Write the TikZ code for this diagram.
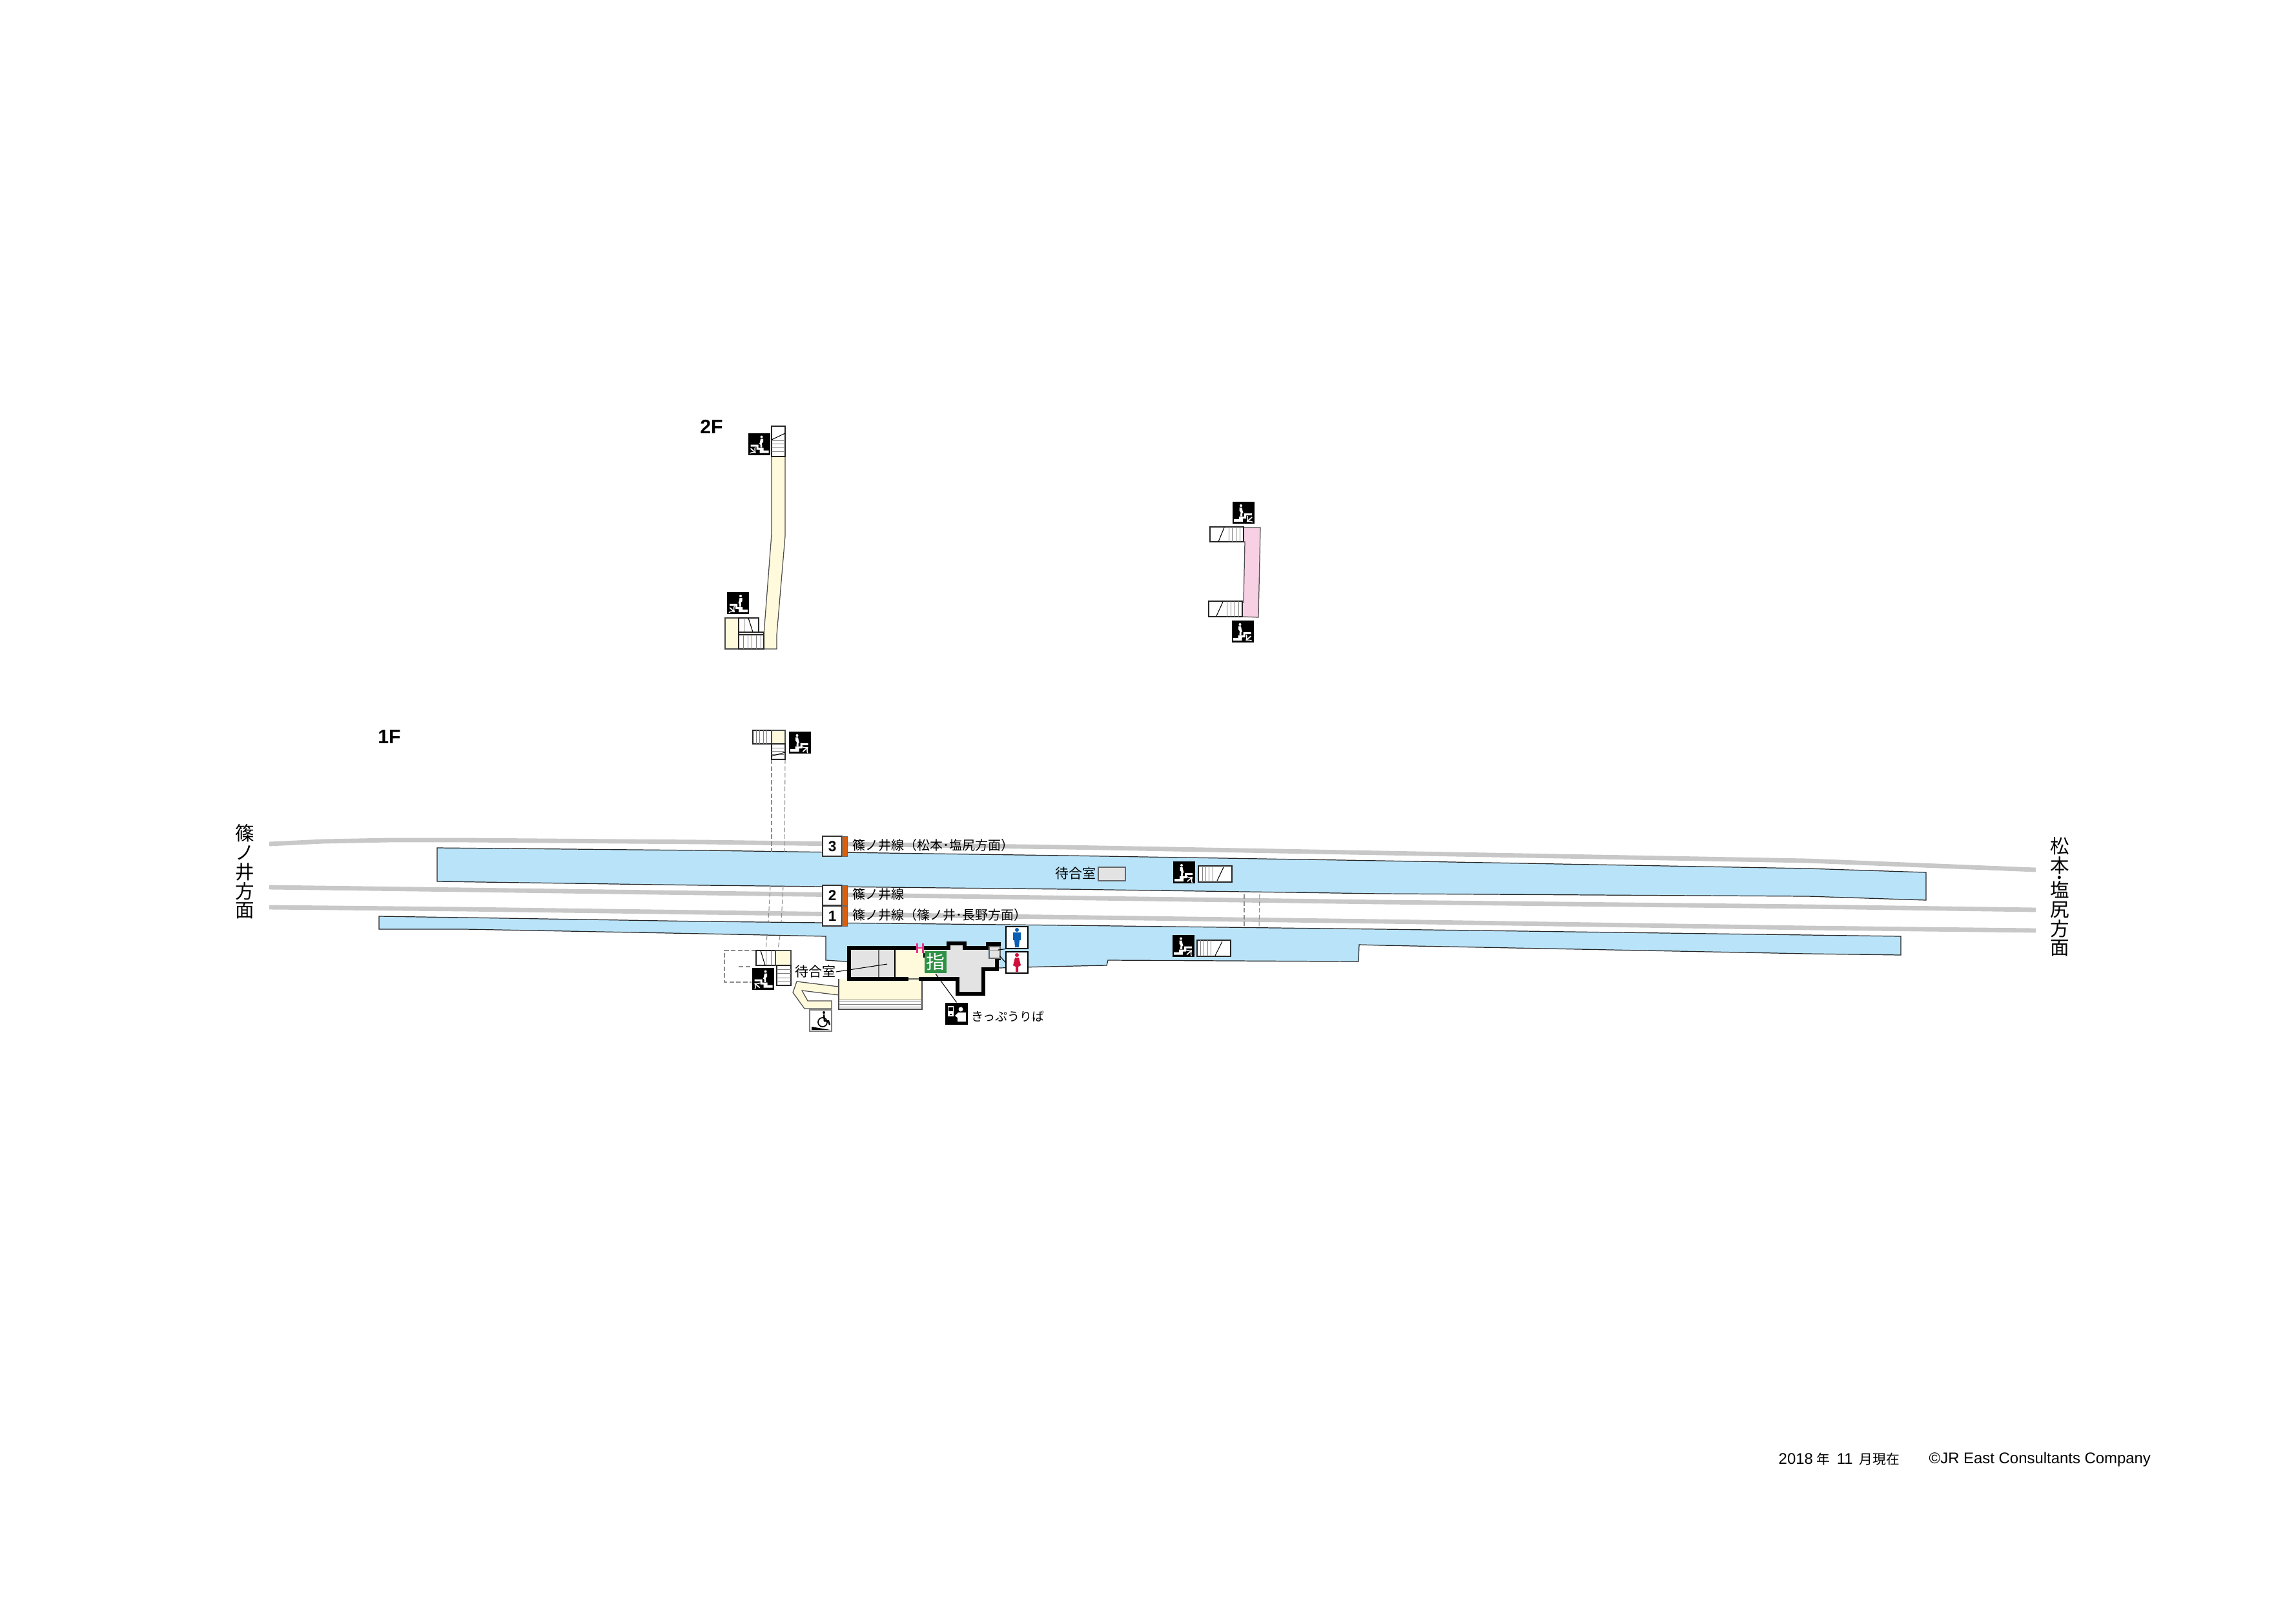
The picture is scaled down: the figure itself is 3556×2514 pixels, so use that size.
\documentclass[tikz,border=0pt]{standalone}
\usepackage{fontspec}
\setmainfont{Liberation Sans}
\newfontfamily\cjk{Noto Sans CJK JP}
\usetikzlibrary{positioning}
\definecolor{platblue}{HTML}{B9E3F9}
\definecolor{trackgray}{HTML}{C8C8C8}
\definecolor{roomgray}{HTML}{E3E3E3}
\definecolor{creamfill}{HTML}{FFFADC}
\definecolor{pinkfill}{HTML}{F8D0E4}
\definecolor{doorpink}{HTML}{E6358C}
\definecolor{lineorange}{HTML}{D95F0E}
\definecolor{signgreen}{HTML}{2F9145}
\definecolor{manblue}{HTML}{0A5FB4}
\definecolor{womanred}{HTML}{D0103A}
\tikzset{
  platform/.style={fill=platblue,draw=black!85,line width=0.35pt},
  track/.style={draw=trackgray,line width=1.95pt},
  thinline/.style={draw=black,line width=0.3pt},
  treadline/.style={draw=black!50,line width=0.28pt},
  stairbox/.style={fill=white,draw=black!85,line width=0.35pt},
  creambox/.style={fill=creamfill,draw=black!70,line width=0.35pt},
  hidden/.style={draw=black!45,line width=0.3pt,dash pattern=on 2pt off 1pt},
  wall/.style={draw=black,line width=1.45pt,line join=miter},
  numbox/.style={draw=black!80,fill=white,line width=0.35pt,minimum width=30*0.2845pt,minimum height=31*0.2845pt,inner sep=0pt,font=\bfseries\fontsize{6.4}{7}\selectfont,text depth=0pt},
  linebar/.style={fill=lineorange,draw=black!60,line width=0.25pt},
  linelabel/.style={anchor=west,inner sep=0pt,font=\cjk\fontsize{5.68}{6}\selectfont},
  roomlabel/.style={inner sep=0pt,font=\cjk\fontsize{5.95}{6}\selectfont},
  sidelabel/.style={inner sep=0pt,align=center,font=\cjk\fontsize{8.4}{8.45}\selectfont},
  floorlabel/.style={inner sep=0pt,font=\bfseries\fontsize{8.6}{9}\selectfont},
  footlabel/.style={anchor=west,inner sep=0pt,font=\fontsize{6.8}{7}\selectfont},
  signnode/.style={fill=signgreen,text=white,inner sep=0pt,minimum width=34*0.2845pt,minimum height=34*0.2845pt,font=\cjk\fontsize{8.2}{9}\selectfont},
  iconarrow/.style={draw=white,line width=0.5pt,->},
  stairup/.pic={\stairbase \draw[iconarrow] (5,14) -- (13,7);},
  stairdown/.pic={\stairbase \draw[iconarrow] (13,7) -- (5,14);}
}
\newcommand{\stairbase}{%
  \fill[black] (-17,-17) rectangle (17,17);
  \fill[white] (-15,14) -- (-15,10) -- (-7,10) -- (-7,6) -- (1,6) -- (1,1) -- (13,1) -- (13,4) -- (4,4) -- (4,9) -- (-1,9) -- (-1,14) -- cycle;
  \fill[white] (-4,-11) circle (2);
  \fill[white] (-6.5,-8) -- (-2.5,-8) -- (-1.5,-3) -- (-0.5,0) -- (-2,1) -- (-2,5.5) -- (-5,5.5) -- (-4.5,-1) -- (-6.5,-3) -- cycle;
}
\begin{document}
\begin{tikzpicture}[x=0.01cm,y=-0.01cm]
  \useasboundingbox (0,0) rectangle (3556,2514);
  %Draw upper platform
  \draw[platform] (677,1313) -- (1090,1317) -- (1650,1325) -- (2140,1333) -- (2800,1345) -- (2983,1351) -- (2983,1394) -- (2800,1388) -- (2140,1384) -- (1650,1377) -- (1090,1371) -- (677,1365) -- cycle;
  %Draw lower platform
  \draw[platform] (587,1419) -- (720,1421) -- (1090,1427) -- (1650,1433) -- (2140,1439) -- (2800,1448) -- (2944,1450) -- (2944,1479) -- (2800,1477) -- (2140,1464) -- (2105,1463) -- (2104,1489) -- (1716,1487) -- (1714,1495) -- (1620,1497) -- (1547,1499) -- (1311,1489) -- (1279,1487) -- (1279,1450) -- (1090,1446) -- (720,1439) -- (587,1439) -- cycle;
  %Draw tracks
  \draw[track] (417,1307) -- (500,1303) -- (603,1301) -- (720,1301) -- (1090,1304) -- (1650,1312) -- (2800,1333) -- (3153,1347);
  \draw[track] (417,1374) -- (720,1378) -- (1090,1383) -- (1620,1390) -- (2140,1397) -- (2800,1404) -- (3153,1409);
  \draw[track] (417,1405) -- (720,1408) -- (1090,1413) -- (1620,1420) -- (2140,1427) -- (2800,1437) -- (3153,1441);
  %Draw bridge shown through from 2F
  \draw[hidden] (1195,1176) -- (1195,1319);
  \draw[hidden] (1216,1176) -- (1215,1319);
  \draw[hidden] (1193,1372) -- (1190,1427);
  \draw[hidden] (1213,1372) -- (1210,1427);
  \draw[hidden] (1188,1449) -- (1186,1470);
  \draw[hidden] (1208,1449) -- (1205,1470);
  \draw[hidden] (1927,1385) -- (1927,1435);
  \draw[hidden] (1951,1385) -- (1950,1435);
  %Draw 2F corridor and stairs on the left
  \draw[creambox] (1195,707) -- (1195,827) -- (1183,983) -- (1183,1005) -- (1203,1005) -- (1203,983) -- (1216,830) -- (1216,707) -- cycle;
  \draw[stairbox] (1195,660) rectangle (1216,707);
  \draw[treadline] (1195,682) -- (1216,682) (1195,687) -- (1216,687) (1195,693) -- (1216,693) (1195,699) -- (1216,699);
  \draw[thinline] (1195,681) -- (1216,671);
  \draw[creambox] (1123,957) rectangle (1144,1005);
  \draw[stairbox] (1144,957) rectangle (1175,979);
  \draw[treadline] (1152,957) -- (1152,979);
  \draw[thinline] (1159,957) -- (1166,979);
  \draw[stairbox] (1144,979) rectangle (1183,983);
  \draw[stairbox] (1144,983) rectangle (1183,1005);
  \draw[treadline] (1151,983) -- (1151,1005) (1158,983) -- (1158,1005) (1164,983) -- (1164,1005) (1171,983) -- (1171,1005) (1178,983) -- (1178,1005);
  \pic[xscale=-1] at (1175.5,687.5) {stairdown};
  \pic[xscale=-1] at (1143,934) {stairdown};
  %Draw 2F corridor and stairs on the right
  \draw[fill=pinkfill,draw=black!70,line width=0.35pt] (1926,817) -- (1952,817) -- (1949,956) -- (1924,955) -- (1923,933) -- (1926,933) -- (1928,839) -- (1926,839) -- cycle;
  \draw[stairbox] (1874,816) rectangle (1926,839);
  \draw[treadline] (1903,816) -- (1903,839) (1908,816) -- (1908,839) (1914,816) -- (1914,839) (1920,816) -- (1920,839);
  \draw[thinline] (1896,817) -- (1887,839);
  \draw[stairbox] (1872,931) rectangle (1924,955);
  \draw[treadline] (1900,931) -- (1900,955) (1906,931) -- (1906,955) (1912,931) -- (1912,955) (1918,931) -- (1918,955);
  \draw[thinline] (1894,932) -- (1884,954);
  \pic at (1926,794) {stairdown};
  \pic at (1924.5,978) {stairdown};
  %Draw 1F stairs at the top of the bridge
  \draw[stairbox] (1166,1131) rectangle (1195,1152);
  \draw[treadline] (1171,1131) -- (1171,1152) (1176,1131) -- (1176,1152) (1182,1131) -- (1182,1152) (1187,1131) -- (1187,1152);
  \draw[creambox] (1195,1131) rectangle (1216,1152);
  \draw[stairbox] (1195,1152) rectangle (1216,1176);
  \draw[treadline] (1195,1158) -- (1216,1158) (1195,1163) -- (1216,1163) (1195,1168) -- (1216,1168);
  \draw[thinline] (1195,1171) -- (1216,1165);
  \pic at (1238.5,1150) {stairup};
  %Draw waiting room and stairs on upper platform
  \draw[fill=roomgray,draw=black!60,line width=0.4pt] (1701,1343) rectangle (1743,1364);
  \node[roomlabel,anchor=east] (waitupper) at (1698,1353) {待合室};
  \pic at (1834,1351) {stairup};
  \draw[stairbox] (1856,1341) rectangle (1908,1366);
  \draw[treadline] (1862,1341) -- (1862,1366) (1867,1341) -- (1867,1366) (1872,1341) -- (1872,1366) (1878,1341) -- (1878,1366);
  \draw[thinline] (1895,1343) -- (1885,1364);
  %Draw stairs on lower platform
  \pic at (1833,1464.5) {stairup};
  \draw[stairbox] (1854,1456) rectangle (1906,1481);
  \draw[treadline] (1859,1456) -- (1859,1481) (1864,1456) -- (1864,1481) (1870,1456) -- (1870,1481) (1875,1456) -- (1875,1481);
  \draw[thinline] (1893,1458) -- (1882,1480);
  %Draw stairs beside the station building
  \draw[hidden] (1171,1472) -- (1122,1472) -- (1122,1521) -- (1164,1521);
  \draw[hidden] (1144,1497) -- (1164,1497);
  \draw[stairbox] (1171,1472) rectangle (1201,1495);
  \draw[treadline] (1186,1472) -- (1186,1495) (1194,1472) -- (1194,1495);
  \draw[thinline] (1178,1472) -- (1185,1495);
  \draw[creambox] (1201,1472) rectangle (1225,1495);
  \draw[stairbox] (1203,1495) rectangle (1225,1526);
  \draw[treadline] (1203,1501) -- (1225,1501) (1203,1507) -- (1225,1507) (1203,1514) -- (1225,1514) (1203,1520) -- (1225,1520);
  \pic[xscale=-1] at (1181.5,1515.5) {stairup};
  %Draw ramp and entrance
  \draw[creambox] (1234,1520) -- (1299,1528) -- (1299,1541) -- (1242,1534) -- (1251,1550) -- (1288,1550) -- (1288,1562) -- (1246,1562) -- (1228,1537) -- cycle;
  \fill[creamfill] (1299,1516) rectangle (1428,1548);
  \draw[draw=black!70,line width=0.35pt] (1299,1516) -- (1299,1563) -- (1428,1563) -- (1428,1516);
  \draw[treadline] (1299,1548) -- (1428,1548) (1299,1551) -- (1428,1551) (1299,1555) -- (1428,1555) (1299,1559) -- (1428,1559);
  %Draw station building
  \fill[roomgray] (1315,1468) rectangle (1386,1516);
  \fill[creamfill] (1386,1468) rectangle (1449,1516);
  \fill[roomgray] (1449,1468) -- (1469,1468) -- (1469,1461) -- (1494,1461) -- (1494,1468) -- (1530,1468) -- (1530,1484) -- (1544,1484) -- (1544,1501) -- (1523,1501) -- (1523,1539) -- (1483,1539) -- (1483,1516) -- (1449,1516) -- cycle;
  \draw[draw=black!60,line width=0.5pt] (1361,1468) -- (1361,1516);
  \draw[thinline] (1386,1468) -- (1386,1516);
  \draw[draw=black!60,line width=0.4pt] (1407,1516) -- (1423,1516);
  \draw[wall] (1407,1516) -- (1315,1516) -- (1315,1468) -- (1419,1468);
  \draw[wall] (1431,1468) -- (1469,1468) -- (1469,1461) -- (1494,1461) -- (1494,1468) -- (1530,1468) -- (1530,1462) -- (1547,1462) -- (1547,1484) -- (1544,1484) -- (1544,1501) -- (1523,1501) -- (1523,1539) -- (1483,1539) -- (1483,1516) -- (1423,1516);
  \fill[doorpink] (1419,1461) rectangle (1422,1476);
  \fill[doorpink] (1428,1461) rectangle (1431,1476);
  \draw[doorpink,line width=0.6pt] (1420,1468) -- (1430,1468);
  \draw[thinline] (1431,1476) -- (1431,1483);
  \draw[fill=roomgray,draw=black!60,line width=0.35pt] (1532,1466) rectangle (1549,1484);
  \draw[treadline] (1532,1472) -- (1549,1472);
  \node[signnode] (reserved) at (1449,1490) {指};
  \node[roomlabel,anchor=east] (waitbuilding) at (1295,1505) {待合室};
  \coordinate (waitend) at (1374,1493);
  \draw[thinline] (waitbuilding.east) -- (waitend);
  %Draw toilet signs
  \node[draw=black,fill=white,line width=0.35pt,minimum width=34*0.2845pt,minimum height=34*0.2845pt] (mansign) at (1575,1452) {};
  \node[draw=black,fill=white,line width=0.35pt,minimum width=34*0.2845pt,minimum height=33*0.2845pt] (womansign) at (1575,1490.5) {};
  \coordinate (mandoor) at (1546,1471);
  \coordinate (womandoor) at (1548,1480);
  \draw[thinline] (mandoor) -- (mansign.south west);
  \draw[thinline] (womandoor) -- (womansign.west);
  \fill[manblue] (1575,1440) circle (3);
  \fill[manblue] (1569,1444) -- (1581,1444) -- (1581,1456) -- (1579,1456) -- (1578,1467) -- (1572,1467) -- (1571,1456) -- (1569,1456) -- cycle;
  \fill[womanred] (1575,1479) circle (3);
  \fill[womanred] (1572,1483) -- (1578,1483) -- (1581,1495) -- (1577,1497) -- (1577,1505) -- (1573,1505) -- (1573,1497) -- (1569,1495) -- cycle;
  %Draw wheelchair sign
  \draw[fill=white,draw=black!50,line width=0.3pt] (1254,1564) rectangle (1288,1597);
  \fill[black] (1257,1590) -- (1257,1595) -- (1286,1595) -- cycle;
  \draw[black,line width=0.5pt] (1274,1583) circle (7);
  \fill[black] (1276,1568) circle (2);
  \draw[black,line width=0.7pt] (1276,1571) -- (1277,1581) -- (1283,1581) -- (1285,1587);
  %Draw ticket sign
  \node[fill=black,inner sep=0pt,minimum width=35*0.2845pt,minimum height=34*0.2845pt] (ticketsign) at (1481.5,1570) {};
  \coordinate (ticketdoor) at (1449,1508);
  \draw[thinline] (ticketdoor) -- (ticketsign.north);
  \fill[white] (1468,1558) rectangle (1477,1574);
  \fill[black] (1469,1560) rectangle (1476,1566);
  \fill[black] (1471,1570) rectangle (1474,1572);
  \fill[white] (1488,1563) circle (3.5);
  \fill[white] (1479,1573) -- (1484,1568) -- (1496,1568) -- (1496,1582) -- (1483,1582) -- (1483,1576) -- cycle;
  \node[inner sep=0pt,anchor=west,font=\cjk\fontsize{5.4}{6}\selectfont] (ticketlabel) at (1504,1574) {きっぷうりば};
  %Draw track number boxes
  \node[numbox] (numthree) at (1289,1310.5) {3};
  \node[numbox] (numtwo) at (1289,1386.5) {2};
  \node[numbox] (numone) at (1289,1418.5) {1};
  \draw[linebar] (1304,1295) rectangle (1312,1326);
  \draw[linebar] (1304,1371) rectangle (1312,1402);
  \draw[linebar] (1304,1403) rectangle (1312,1434);
  \node[linelabel] (linethree) at (1320,1309) {篠ノ井線（松本･塩尻方面）};
  \node[linelabel] (linetwo) at (1320,1385) {篠ノ井線};
  \node[linelabel] (lineone) at (1320,1417) {篠ノ井線（篠ノ井･長野方面）};
  %Draw annotation for directions and floors
  \node[sidelabel] (westside) at (379,1350) {篠\\ノ\\井\\方\\面};
  \node[sidelabel] (eastside) at (3190,1389) {松\\本\\[-3pt]･\\[-3pt]塩\\尻\\方\\面};
  \node[floorlabel] (floortwo) at (1102,661) {2F};
  \node[floorlabel] (floorone) at (603,1141) {1F};
  \node[footlabel] (footdate) at (2754,2260) {2018\hspace{1.6pt}{\cjk\fontsize{5.9}{6}\selectfont 年}\hspace{3pt}11\hspace{2.8pt}{\cjk\fontsize{5.9}{6}\selectfont 月現在}};
  \node[footlabel] (footcopy) at (2987,2260) {©JR East Consultants Company};
\end{tikzpicture}
\end{document}
